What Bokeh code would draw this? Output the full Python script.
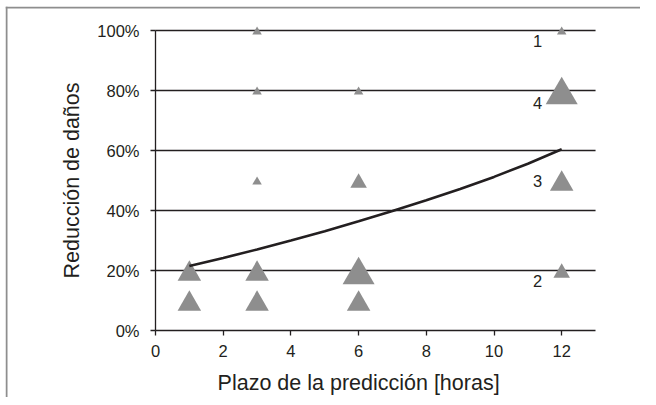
from bokeh.plotting import figure
from bokeh.models import (FixedTicker, PrintfTickFormatter, Label, ColumnDataSource,
                          LinearAxis, Span, Range1d)
from bokeh.transform import dodge
from bokeh.embed import file_html
from bokeh.resources import INLINE
from bokeh.core.properties import value

# Data: each point = (lead time in hours, damage reduction %), marker size class = number of cases
lead_hours = [1, 1, 3, 3, 3, 3, 3, 6, 6, 6, 6, 12, 12, 12, 12]
reduction_pct = [20, 10, 100, 80, 50, 20, 10, 80, 50, 20, 10, 100, 80, 50, 20]
case_count = [3, 3, 1, 1, 1, 3, 3, 1, 2, 4, 3, 1, 4, 3, 2]

# Trend line
trend_x = [1, 2, 3, 4, 5, 6, 7, 8, 9, 10, 11, 12]
trend_y = [21.5, 24.2, 27.0, 30.0, 33.1, 36.4, 39.8, 43.4, 47.2, 51.2, 55.6, 60.4]

# Point labels next to the 12 h points
label_text = ["1", "4", "3", "2"]
label_x = [12, 12, 12, 12]
label_y = [100, 80, 50, 20]

x_ticks = [0, 2, 4, 6, 8, 10, 12]
y_ticks = [0, 20, 40, 60, 80, 100]
x_axis_end = 13

FONT = "Liberation Sans"
INK = "#231f20"
GREY = "#8e8e8e"

size_of_class = {1: 9.5, 2: 16.5, 3: 23.5, 4: 32}

# ---- layout constants (pixels) ----
W, H = 640, 397
FL, FT = 5, 6                    # frame left / top inside canvas
X0_PX, PX_PER_X = 155.0, 33.85   # pixel of x=0, pixels per hour
Y0_PX, PX_PER_Y = 330.0, 3.0     # pixel of 0 %, pixels per percent
BORDER_X_PX, BORDER_Y_PX = 6.0, 7.0

x_range = Range1d((FL - X0_PX) / PX_PER_X, (W - X0_PX) / PX_PER_X)
y_range = Range1d(-(H - Y0_PX) / PX_PER_Y, (Y0_PX - FT) / PX_PER_Y)

p = figure(width=W, height=H, x_range=x_range, y_range=y_range,
           output_backend="svg", toolbar_location=None,
           x_axis_location=None, y_axis_location=None,
           min_border_left=FL, min_border_right=0,
           min_border_top=FT, min_border_bottom=0)
p.outline_line_color = None
p.background_fill_color = "white"
p.border_fill_color = "white"
p.xgrid.visible = False
p.ygrid.visible = False

# outer frame: left and top lines
p.add_layout(Span(location=(BORDER_X_PX - X0_PX) / PX_PER_X, dimension="height",
                  line_color=GREY, line_width=2))
p.add_layout(Span(location=(Y0_PX - BORDER_Y_PX) / PX_PER_Y, dimension="width",
                  line_color=GREY, line_width=2))

# horizontal grid lines across the axis extent
gy = y_ticks[1:]
p.segment(x0=[0] * len(gy), x1=[x_axis_end] * len(gy), y0=gy, y1=gy,
          line_color=INK, line_width=1.3)

# axes placed at the data origin
xaxis = LinearAxis(fixed_location=0, bounds=(0, x_axis_end))
yaxis = LinearAxis(fixed_location=0, bounds=(0, 100))
p.add_layout(xaxis, "below")
p.add_layout(yaxis, "left")

for ax in (xaxis, yaxis):
    ax.axis_line_color = INK
    ax.axis_line_width = 1.3
    ax.major_tick_line_color = INK
    ax.major_tick_line_width = 1.3
    ax.major_tick_in = 0
    ax.major_tick_out = 5
    ax.minor_tick_line_color = None
    ax.major_label_text_font = FONT
    ax.major_label_text_font_size = "16.5px"
    ax.major_label_text_color = INK
    ax.axis_label_text_font = FONT
    ax.axis_label_text_font_style = "normal"
    ax.axis_label_text_font_size = "21.5px"
    ax.axis_label_text_color = INK

xaxis.ticker = FixedTicker(ticks=x_ticks)
xaxis.major_label_standoff = 9
yaxis.ticker = FixedTicker(ticks=y_ticks)
yaxis.formatter = PrintfTickFormatter(format="%d%%")
yaxis.major_label_standoff = 11
yaxis.axis_label = "Reducción de daños"
yaxis.axis_label_standoff = 10

# triangles: one renderer per size class; shift so the triangle's box is centred on the value
for cls, s in size_of_class.items():
    idx = [i for i, c in enumerate(case_count) if c == cls]
    src = ColumnDataSource(dict(x=[lead_hours[i] for i in idx],
                                y=[reduction_pct[i] for i in idx]))
    shift = -(s * 3 ** 0.5 / 2) / 6 / PX_PER_Y
    p.scatter("x", dodge("y", shift), source=src, marker="triangle", size=s,
              fill_color=GREY, line_color=None)

# trend line
p.line(trend_x, trend_y, line_color=INK, line_width=2.6)

# labels 1-4
p.text(x=label_x, y=label_y, text=label_text,
       x_offset=-24, y_offset=[10, 12, 0, 10],
       text_font=value(FONT), text_font_size="16.5px", text_color=INK,
       text_align="center", text_baseline="middle")

# x axis title, centred on 0..12
p.add_layout(Label(x=6, y=-17.5, text="Plazo de la predicción [horas]",
                   text_font=FONT, text_font_size="21.5px", text_color=INK,
                   text_align="center", text_baseline="middle"))

open("out.html", "w").write(file_html(p, INLINE))
